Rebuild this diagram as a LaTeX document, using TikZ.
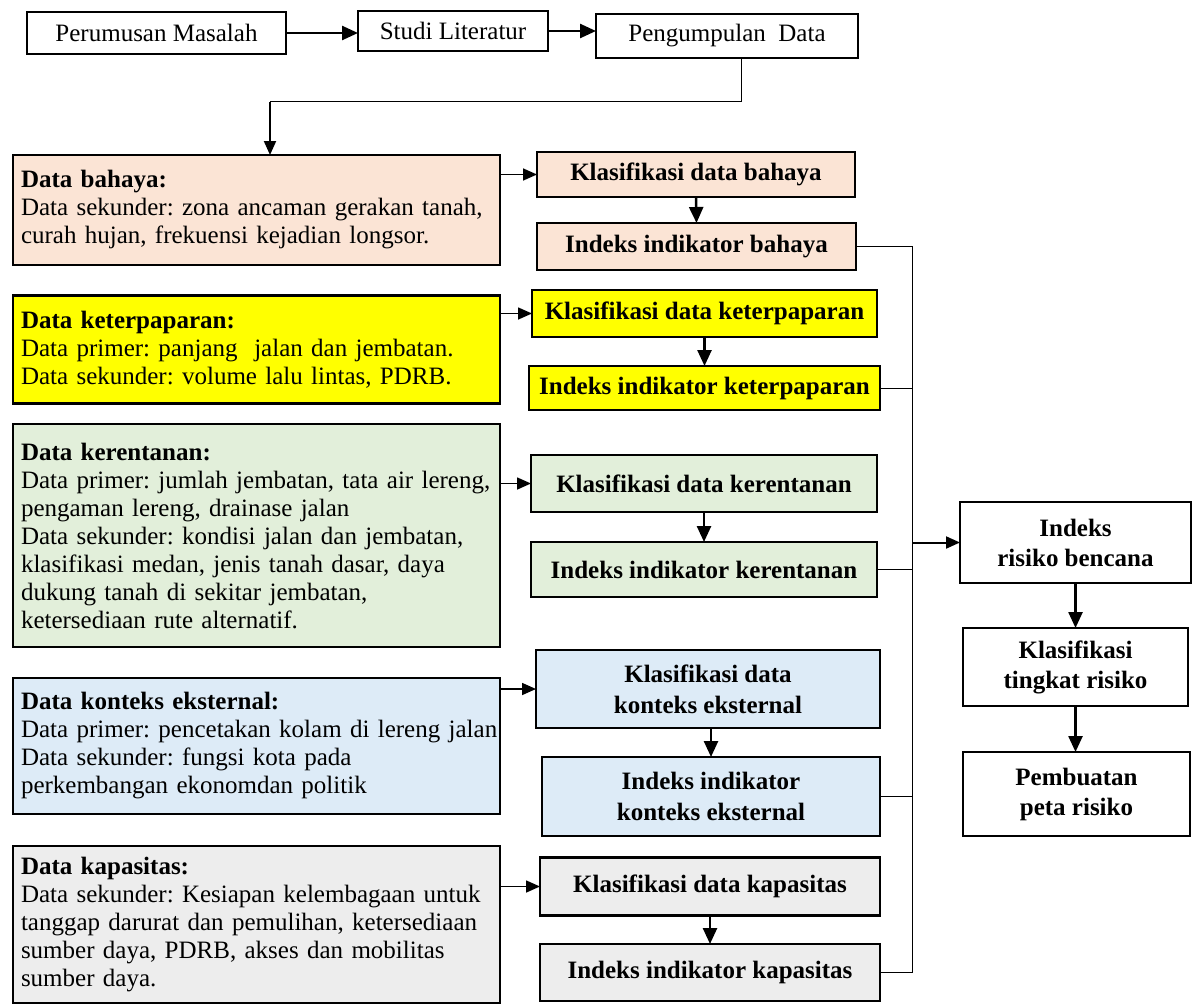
\documentclass[tikz,border=0pt]{standalone}
\usepackage{fontspec}
\setmainfont{Liberation Serif}
\usetikzlibrary{arrows.meta}
\definecolor{peach}{HTML}{FBE4D5}
\definecolor{ylw}{HTML}{FFFF00}
\definecolor{grn}{HTML}{E2EFDA}
\definecolor{blu}{HTML}{DDEBF7}
\definecolor{gry}{HTML}{EDEDED}
\newcommand\nbx[1]{\mbox{#1}}
\frenchspacing
\begin{document}
\begin{tikzpicture}[x=1pt,y=-1pt,
 every node/.style={inner sep=0pt, outer sep=0pt},
 topbox/.style={draw, line width=2.2pt, font=\fontsize{25}{30}\selectfont},
 databox/.style={draw, line width=2.6pt, minimum width=487pt, text width=471pt, inner xsep=8pt, align=left, font=\fontsize{25}{28}\selectfont},
 stepbox/.style={draw, line width=2.6pt, align=center, font=\fontsize{25}{31}\selectfont\bfseries},
 riskbox/.style={draw, line width=2.2pt, align=center, font=\fontsize{25}{30}\selectfont\bfseries},
 bigarrow/.style={-{Triangle[length=16pt,width=14pt]}, line width=2.5pt},
 midarrow/.style={-{Triangle[length=14pt,width=12pt]}, line width=1.6pt},
 thinline/.style={line width=1pt}
]
\useasboundingbox (0,0) rectangle (1193,1006);

% top row
\node[topbox, minimum width=259pt, minimum height=42pt] (pm) at (156.5,33) {Perumusan Masalah};
\node[topbox, minimum width=190pt, minimum height=40pt] (sl) at (453,31) {Studi Literatur};
\node[topbox, minimum width=262pt, minimum height=44pt] (pd) at (727,36) {Pengumpulan\ \ Data};

% data boxes
\node[databox, fill=peach, minimum height=110pt] (db) at (256.5,210) {\nbx{\textbf{Data bahaya:}}\\\nbx{Data sekunder: zona ancaman gerakan tanah,}\\\nbx{curah hujan, frekuensi kejadian longsor.}};
\node[databox, fill=ylw, minimum height=108pt] (dp) at (256.5,349.5) {\nbx{\textbf{Data keterpaparan:}}\\\nbx{Data primer: panjang\ \ jalan dan jembatan.}\\\nbx{Data sekunder: volume lalu lintas, PDRB.}};
\node[databox, fill=grn, minimum height=223pt] (dr) at (256.5,535.5) {\nbx{\textbf{Data kerentanan:}}\\\nbx{Data primer: jumlah jembatan, tata air lereng,}\\\nbx{pengaman lereng, drainase jalan}\\\nbx{Data sekunder: kondisi jalan dan jembatan,}\\\nbx{klasifikasi medan, jenis tanah dasar, daya}\\\nbx{dukung tanah di sekitar jembatan,}\\\nbx{ketersediaan rute alternatif.}};
\node[databox, fill=blu, minimum height=136pt] (dk) at (256.5,746) {\nbx{\textbf{Data konteks eksternal:}}\\\nbx{Data primer: pencetakan kolam di lereng jalan}\\\nbx{Data sekunder: fungsi kota pada}\\\nbx{perkembangan ekonomdan politik}};
\node[databox, fill=gry, minimum height=157pt] (dc) at (256.5,924.5) {\nbx{\textbf{Data kapasitas:}}\\\nbx{Data sekunder: Kesiapan kelembagaan untuk}\\\nbx{tanggap darurat dan pemulihan, ketersediaan}\\\nbx{sumber daya, PDRB, akses dan mobilitas}\\\nbx{sumber daya.}};

% classification / index boxes
\node[stepbox, fill=peach, minimum width=318pt, minimum height=45pt] (kb) at (696,174.5) {Klasifikasi data bahaya};
\node[stepbox, fill=peach, minimum width=319pt, minimum height=47pt] (ib) at (696.5,246.5) {Indeks indikator bahaya};
\node[stepbox, fill=ylw, minimum width=345pt, minimum height=47pt] (kp) at (704.5,313.5) {Klasifikasi data keterpaparan};
\node[stepbox, fill=ylw, minimum width=351pt, minimum height=44pt] (ip) at (704.5,388) {Indeks indikator keterpaparan};
\node[stepbox, fill=grn, minimum width=346pt, minimum height=57pt] (kr) at (704,483.5) {Klasifikasi data kerentanan};
\node[stepbox, fill=grn, minimum width=346pt, minimum height=55pt] (ir) at (704,569.5) {Indeks indikator kerentanan};
\node[stepbox, fill=blu, minimum width=344pt, minimum height=78pt] (kk) at (708,689) {Klasifikasi data\\konteks eksternal};
\node[stepbox, fill=blu, minimum width=338pt, minimum height=79pt] (ik) at (711,796.5) {Indeks indikator\\konteks eksternal};
\node[stepbox, fill=gry, minimum width=340pt, minimum height=58pt] (kc) at (710,886.5) {Klasifikasi data kapasitas};
\node[stepbox, fill=gry, minimum width=340pt, minimum height=57pt] (ic) at (710,972.5) {Indeks indikator kapasitas};

% risk boxes
\node[riskbox, minimum width=231pt, minimum height=81pt] (rb) at (1075.5,542.5) {Indeks\\risiko bencana};
\node[riskbox, minimum width=225pt, minimum height=78pt] (rt) at (1075.5,667) {Klasifikasi\\tingkat risiko};
\node[riskbox, minimum width=227pt, minimum height=84pt] (rp) at (1076.5,794) {Pembuatan\\peta risiko};

% top connectors
\draw[bigarrow] (pm.east) -- (pm.east -| sl.west);
\draw[bigarrow] (sl.east) -- (sl.east -| pd.west);
\coordinate (c1) at (741,102);
\coordinate (c2) at (270,102);
\draw[thinline] (pd.south -| c1) -- (c1) -- (c2);
\draw[midarrow, line width=2pt] (c2) -- (c2 |- db.north);

% data -> klasifikasi
\draw[midarrow] (kb.west -| db.east) -- (kb.west);
\draw[midarrow] (kp.west -| dp.east) -- (kp.west);
\draw[midarrow] (kr.west -| dr.east) -- (kr.west);
\draw[midarrow] (kk.west -| dk.east) -- (kk.west);
\draw[midarrow] (kc.west -| dc.east) -- (kc.west);

% klasifikasi -> indeks
\draw[bigarrow] (kb.south) -- (ib.north);
\draw[bigarrow] (kp.south) -- (kp.south |- ip.north);
\draw[bigarrow] (kr.south) -- (ir.north);
\draw[bigarrow] (kk.south -| ik.north) -- (ik.north);
\draw[bigarrow] (kc.south) -- (ic.north);

% bus
\coordinate (bus) at (912,0);
\draw[thinline] (ib.east) -- (ib.east -| bus) -- (ic.east -| bus) -- (ic.east);
\draw[thinline] (ip.east) -- (ip.east -| bus);
\draw[thinline] (ir.east) -- (ir.east -| bus);
\draw[thinline] (ik.east) -- (ik.east -| bus);
\draw[midarrow, line width=2pt] (rb.west -| bus) -- (rb.west);

% risk chain
\draw[bigarrow] (rb.south) -- (rt.north);
\draw[bigarrow] (rt.south) -- (rt.south |- rp.north);
\end{tikzpicture}
\end{document}
